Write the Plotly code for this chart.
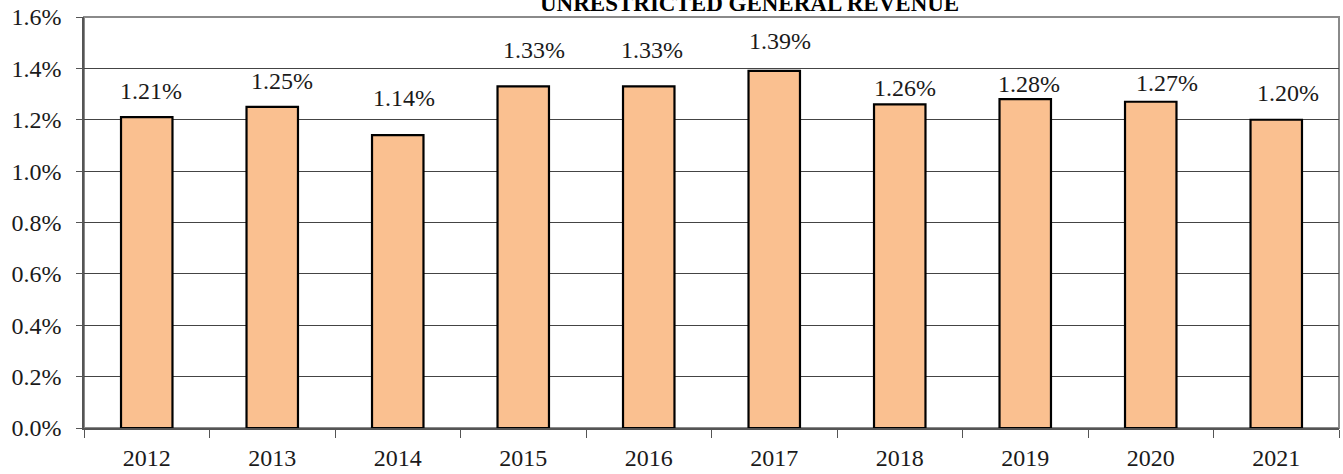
import plotly.graph_objects as go

years = ["2012", "2013", "2014", "2015", "2016", "2017", "2018", "2019", "2020", "2021"]
values = [1.21, 1.25, 1.14, 1.33, 1.33, 1.39, 1.26, 1.28, 1.27, 1.20]
labels = ["1.21%", "1.25%", "1.14%", "1.33%", "1.33%", "1.39%", "1.26%", "1.28%", "1.27%", "1.20%"]
y_ticks = [0.0, 0.2, 0.4, 0.6, 0.8, 1.0, 1.2, 1.4, 1.6]
y_tick_labels = ["0.0%", "0.2%", "0.4%", "0.6%", "0.8%", "1.0%", "1.2%", "1.4%", "1.6%"]
title = "UNRESTRICTED GENERAL REVENUE"

# styling: manual pixel nudges of the value labels (as placed in the original chart)
label_xshift = [4, 10, 6, 11, 3, 6, 5, 4, 16, 12]
label_yshift = [11, 11, 22, 21, 21, 15, 1, 0, 4, 12]

SERIF = "'Liberation Serif', 'Times New Roman', serif"
FS = 24

fig = go.Figure()
fig.add_trace(go.Bar(
    x=years, y=values,
    marker=dict(color="#FAC090", line=dict(color="black", width=2.2)),
    width=0.41,
    hoverinfo="skip",
))

for i, (v, t) in enumerate(zip(values, labels)):
    fig.add_annotation(x=i, y=v, text=t, showarrow=False, yanchor="bottom",
                       xshift=label_xshift[i], yshift=label_yshift[i],
                       font=dict(family=SERIF, size=FS, color="#1a1a1a"))

fig.add_annotation(x=0.53, y=1.034, xref="paper", yref="paper", text="<b>" + title + "</b>",
                   showarrow=False, xanchor="center", yanchor="middle",
                   font=dict(family=SERIF, size=23, color="black"))

# plot-area border (top/right gray)
fig.add_shape(type="rect", xref="paper", yref="paper", x0=0, y0=0, x1=1, y1=1,
              line=dict(color="#8a8a8a", width=2), layer="below")

fig.update_layout(
    width=1343, height=474,
    margin=dict(l=84, r=4, t=17, b=46, autoexpand=False),
    paper_bgcolor="white", plot_bgcolor="white",
    showlegend=False,
    font=dict(family=SERIF, size=FS, color="#1a1a1a"),
    xaxis=dict(type="category", range=[-0.5, len(years) - 0.5], automargin=False,
               showline=True, linecolor="#555555", linewidth=1.5,
               ticks="outside", tickson="boundaries", ticklen=8, tickcolor="#555555",
               ticklabelstandoff=7,
               tickangle=0, showgrid=False, tickfont=dict(family=SERIF, size=FS)),
    yaxis=dict(range=[0, 1.6], tickvals=y_ticks, ticktext=y_tick_labels, automargin=False,
               showline=True, linecolor="#555555", linewidth=1.5,
               ticks="outside", ticklen=6, tickcolor="#555555",
               ticklabelstandoff=10,
               showgrid=True, gridcolor="#444444", gridwidth=1,
               zeroline=False, tickfont=dict(family=SERIF, size=FS)),
)

fig.write_html("out.html", config={"displayModeBar": False},
               post_script="document.body.style.margin='0';document.body.style.padding='0';"
                           "document.body.style.overflow='hidden';")
